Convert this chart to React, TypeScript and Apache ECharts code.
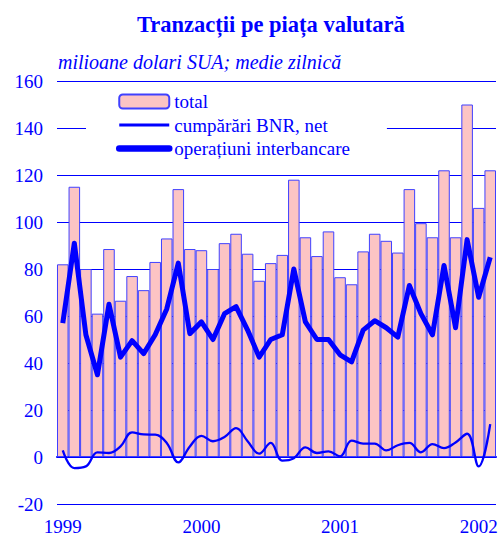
import React, { useEffect, useRef } from "react";
import * as echarts from "echarts";

const months: string[] = [
  "1999-01","1999-02","1999-03","1999-04","1999-05","1999-06","1999-07","1999-08","1999-09","1999-10","1999-11","1999-12",
  "2000-01","2000-02","2000-03","2000-04","2000-05","2000-06","2000-07","2000-08","2000-09","2000-10","2000-11","2000-12",
  "2001-01","2001-02","2001-03","2001-04","2001-05","2001-06","2001-07","2001-08","2001-09","2001-10","2001-11","2001-12",
  "2002-01","2002-02",
];

const total: number[] = [
  82, 115, 80, 61, 88.5, 66.5, 77, 71, 83, 93, 114, 88.5,
  88, 80, 91, 95, 86.5, 75, 82.5, 86, 118, 93.5, 85.5, 96,
  76.5, 73.5, 87.5, 95, 92, 87, 114, 99.5, 93.5, 122, 93.5, 150,
  106, 122,
];

const interbank: number[] = [
  57, 91, 52, 35, 65, 42.5, 49.5, 44, 52, 63, 82.5, 52.5,
  57.5, 50, 61, 64, 54, 42.5, 50, 52, 80, 57.5, 50, 50,
  43.5, 40.5, 54, 58, 55, 51, 73, 61, 52, 81.5, 55, 92.5,
  68, 85,
];

const bnr: number[] = [
  2.8, -4.7, -4, 2, 1.7, 4.5, 10.5, 9.6, 9.5, 6, -2.3, 4.5,
  9, 6.7, 8.5, 12.3, 6.7, 1.4, 6, -1.5, -0.5, 4.1, 1.7, 2.4,
  0.3, 7, 5.7, 5.7, 2.8, 5, 6, 2, 5.5, 3.8, 6.2, 9.9,
  -4, 14,
];

const seriesNames: string[] = ["total", "cumpărări BNR, net", "operațiuni interbancare"];
const titleText = "Tranzacții pe piața valutară";
const subtitleText = "milioane dolari SUA; medie zilnică";

const BLUE = "#0000ff";
const FONT = "'Liberation Serif', 'Times New Roman', serif";
const HIDDEN_SYMBOL = { color: "rgba(0,0,0,0)", borderColor: "rgba(0,0,0,0)", borderWidth: 0 };

export default function App() {
  const ref = useRef<HTMLDivElement>(null);
  useEffect(() => {
    if (!ref.current) return;
    const chart = echarts.init(ref.current, null, { renderer: "svg" });
    chart.setOption({
      animation: false,
      backgroundColor: "#ffffff",
      title: [
        {
          text: titleText,
          left: 132,
          top: 8,
          textStyle: { color: BLUE, fontFamily: FONT, fontSize: 22.5, fontWeight: "bold" },
        },
        {
          text: subtitleText,
          left: 53,
          top: 47,
          textStyle: { color: BLUE, fontFamily: FONT, fontSize: 20, fontStyle: "italic", fontWeight: "normal" },
        },
      ],
      legend: {
        orient: "vertical",
        left: 86,
        top: 84,
        padding: [8, 37, 10, 30],
        backgroundColor: "#ffffff",
        itemWidth: 50,
        itemHeight: 14,
        itemGap: 4.5,
        data: [
          { name: seriesNames[0] },
          { name: seriesNames[1], itemStyle: HIDDEN_SYMBOL, lineStyle: { width: 3, color: BLUE } },
          { name: seriesNames[2], itemStyle: HIDDEN_SYMBOL, lineStyle: { width: 6.5, color: BLUE, cap: "round" } },
        ],
        textStyle: { color: BLUE, fontFamily: FONT, fontSize: 19 },
      },
      grid: { left: 57, right: 3, top: 81, bottom: 32, containLabel: false, outerBoundsMode: "none" },
      xAxis: {
        type: "category",
        data: months,
        axisLine: { onZero: true, lineStyle: { color: BLUE, width: 2 } },
        axisTick: { show: false },
        axisLabel: {
          interval: 0,
          margin: 13,
          color: BLUE,
          fontFamily: FONT,
          fontSize: 19,
          formatter: (v: string) => (v.endsWith("-01") ? v.slice(0, 4) : ""),
        },
        splitLine: { show: false },
      },
      yAxis: {
        type: "value",
        min: -20,
        max: 160,
        interval: 20,
        axisLine: { show: false },
        axisTick: { show: false },
        axisLabel: { color: BLUE, fontFamily: FONT, fontSize: 19, margin: 14 },
        splitLine: { show: true, lineStyle: { color: BLUE, width: 1 } },
      },
      series: [
        {
          name: seriesNames[0],
          type: "bar",
          data: total,
          barCategoryGap: 0,
          itemStyle: { color: "#fcc4c4", borderColor: "#4040ff", borderWidth: 1 },
          z: 2,
        },
        {
          name: seriesNames[1],
          type: "line",
          data: bnr,
          smooth: 0.4,
          symbol: "none",
          lineStyle: { color: BLUE, width: 2.3 },
          itemStyle: { color: BLUE },
          z: 4,
        },
        {
          name: seriesNames[2],
          type: "line",
          data: interbank,
          symbol: "none",
          lineStyle: { color: BLUE, width: 5, join: "round" },
          itemStyle: { color: BLUE },
          z: 5,
        },
      ],
    });
    return () => chart.dispose();
  }, []);
  return <div ref={ref} style={{ position: "fixed", left: 0, top: 0, width: 499, height: 536 }} />;
}
